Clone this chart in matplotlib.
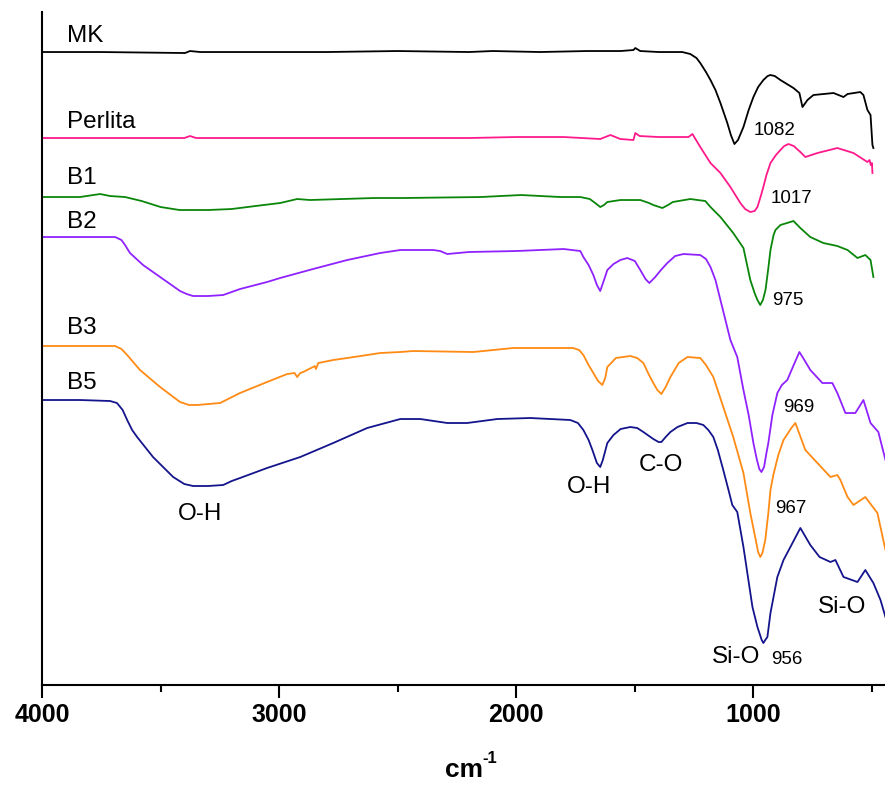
import numpy as np
import matplotlib
matplotlib.use('Agg')
import matplotlib.pyplot as plt
from matplotlib.ticker import MultipleLocator

plt.rcParams['font.family'] = ['Liberation Sans', 'DejaVu Sans']

# espectros FTIR (numero de onda cm-1, transmitancia u.a.)
mk_w = [4000, 3755, 3397, 3376, 3333, 2996, 2800, 2500, 2200, 2100, 1900, 1700, 1560, 1506,
        1498, 1477, 1400, 1300, 1266, 1240, 1224, 1200, 1181, 1160, 1139, 1110, 1095, 1080,
        1065, 1042, 1020, 1000, 980, 958, 940, 928, 910, 886, 831, 806, 793, 772, 747, 662,
        620, 603, 549, 536, 519, 506, 498, 494]
mk_t = [6.33, 6.33, 6.32, 6.34, 6.33, 6.33, 6.33, 6.34, 6.33, 6.34, 6.33, 6.34, 6.34, 6.35,
        6.37, 6.34, 6.33, 6.33, 6.31, 6.27, 6.22, 6.13, 6.05, 5.95, 5.82, 5.62, 5.50, 5.41,
        5.45, 5.58, 5.75, 5.88, 5.98, 6.05, 6.09, 6.10, 6.09, 6.05, 5.97, 5.92, 5.78, 5.85,
        5.90, 5.92, 5.88, 5.91, 5.93, 5.90, 5.75, 5.70, 5.40, 5.37]

perlita_w = [4000, 3755, 3400, 3376, 3350, 3000, 2600, 2200, 2000, 1800, 1646, 1603, 1561,
             1506, 1498, 1480, 1400, 1300, 1274, 1257, 1224, 1181, 1139, 1097, 1055, 1035,
             1013, 995, 983, 970, 958, 945, 928, 905, 886, 870, 852, 830, 802, 781, 730, 646,
             578, 519, 510, 505, 500, 498]
perlita_t = [5.47, 5.47, 5.47, 5.49, 5.47, 5.47, 5.47, 5.47, 5.48, 5.48, 5.46, 5.50, 5.46,
             5.45, 5.52, 5.49, 5.48, 5.48, 5.48, 5.51, 5.38, 5.22, 5.12, 4.98, 4.82, 4.76,
             4.73, 4.74, 4.78, 4.88, 4.98, 5.10, 5.22, 5.30, 5.35, 5.39, 5.41, 5.39, 5.33,
             5.28, 5.32, 5.37, 5.32, 5.23, 5.25, 5.20, 5.22, 5.12]

b1_w = [4000, 3840, 3755, 3713, 3650, 3580, 3500, 3420, 3300, 3200, 3100, 2996, 2924, 2870,
        2600, 2480, 2150, 1980, 1814, 1730, 1690, 1667, 1646, 1630, 1616, 1561, 1477, 1440,
        1422, 1384, 1360, 1340, 1266, 1203, 1181, 1139, 1085, 1042, 1013, 995, 983, 971,
        960, 949, 938, 928, 915, 907, 886, 831, 802, 760, 705, 646, 603, 561, 528, 506, 494]
b1_t = [4.88, 4.88, 4.91, 4.89, 4.88, 4.84, 4.78, 4.75, 4.75, 4.76, 4.79, 4.82, 4.86, 4.85,
        4.87, 4.87, 4.88, 4.90, 4.88, 4.88, 4.86, 4.82, 4.78, 4.80, 4.83, 4.85, 4.85, 4.82,
        4.80, 4.77, 4.80, 4.83, 4.86, 4.84, 4.78, 4.68, 4.52, 4.37, 4.05, 3.92, 3.85, 3.80,
        3.85, 3.95, 4.15, 4.35, 4.50, 4.55, 4.60, 4.64, 4.57, 4.48, 4.42, 4.39, 4.35, 4.27,
        4.30, 4.25, 4.08]

b2_w = [4000, 3840, 3692, 3665, 3650, 3629, 3574, 3502, 3418, 3390, 3363, 3300, 3236, 3165,
        3051, 2996, 2857, 2713, 2574, 2489, 2350, 2321, 2291, 2200, 2000, 1800, 1730, 1717,
        1695, 1675, 1660, 1646, 1630, 1616, 1590, 1561, 1532, 1500, 1477, 1455, 1439, 1414,
        1390, 1363, 1330, 1295, 1224, 1200, 1181, 1160, 1139, 1097, 1068, 1042, 1020, 1000,
        985, 975, 966, 955, 945, 937, 920, 899, 880, 857, 830, 806, 785, 760, 709, 667, 646,
        612, 570, 536, 506, 473, 443]
b2_t = [4.48, 4.48, 4.48, 4.45, 4.40, 4.32, 4.20, 4.08, 3.94, 3.91, 3.89, 3.89, 3.90, 3.96,
        4.03, 4.07, 4.16, 4.25, 4.32, 4.35, 4.35, 4.34, 4.31, 4.33, 4.34, 4.36, 4.34, 4.28,
        4.20, 4.10, 4.00, 3.94, 4.05, 4.15, 4.21, 4.25, 4.27, 4.24, 4.15, 4.06, 4.02, 4.08,
        4.15, 4.22, 4.29, 4.31, 4.30, 4.26, 4.18, 4.05, 3.85, 3.45, 3.28, 2.95, 2.70, 2.42,
        2.25, 2.16, 2.13, 2.18, 2.32, 2.42, 2.70, 2.92, 3.00, 3.05, 3.20, 3.33, 3.25, 3.15,
        3.02, 3.02, 2.92, 2.72, 2.72, 2.85, 2.62, 2.53, 2.25]

b3_w = [4000, 3840, 3692, 3665, 3641, 3587, 3502, 3418, 3380, 3346, 3249, 3165, 3051, 2966,
        2935, 2924, 2911, 2899, 2857, 2850, 2845, 2835, 2772, 2713, 2629, 2574, 2489, 2435,
        2181, 2013, 1760, 1735, 1717, 1695, 1675, 1655, 1637, 1625, 1616, 1580, 1519, 1490,
        1464, 1440, 1422, 1405, 1388, 1370, 1350, 1315, 1278, 1224, 1200, 1169, 1127, 1085,
        1042, 1013, 990, 980, 971, 962, 950, 937, 928, 916, 895, 873, 840, 823, 781, 730,
        675, 646, 633, 603, 578, 528, 477, 443]
b3_t = [3.39, 3.39, 3.39, 3.36, 3.30, 3.15, 2.98, 2.83, 2.80, 2.80, 2.82, 2.92, 3.03, 3.11,
        3.12, 3.08, 3.12, 3.13, 3.18, 3.19, 3.16, 3.22, 3.25, 3.27, 3.30, 3.32, 3.33, 3.34,
        3.33, 3.37, 3.37, 3.35, 3.30, 3.20, 3.12, 3.04, 3.00, 3.07, 3.18, 3.27, 3.29, 3.27,
        3.22, 3.10, 3.02, 2.95, 2.91, 2.98, 3.08, 3.22, 3.28, 3.27, 3.20, 3.08, 2.78, 2.48,
        2.12, 1.72, 1.45, 1.33, 1.28, 1.32, 1.45, 1.72, 1.95, 2.10, 2.30, 2.45, 2.57, 2.62,
        2.35, 2.22, 2.08, 2.10, 2.05, 1.88, 1.80, 1.88, 1.72, 1.35]

b5_w = [4000, 3840, 3713, 3684, 3660, 3641, 3620, 3599, 3532, 3447, 3400, 3363, 3300, 3236,
        3200, 3165, 3051, 2911, 2772, 2629, 2489, 2405, 2291, 2207, 2080, 1941, 1772, 1740,
        1717, 1695, 1679, 1660, 1646, 1635, 1616, 1590, 1560, 1519, 1490, 1464, 1422, 1400,
        1388, 1370, 1350, 1320, 1278, 1240, 1211, 1190, 1169, 1150, 1127, 1105, 1089, 1068,
        1042, 1004, 983, 965, 958, 950, 941, 928, 899, 873, 844, 802, 760, 721, 675, 654,
        620, 561, 528, 494, 464, 443]
b5_t = [2.85, 2.85, 2.84, 2.82, 2.75, 2.65, 2.55, 2.48, 2.28, 2.08, 2.01, 1.99, 1.99, 2.00,
        2.04, 2.07, 2.17, 2.28, 2.42, 2.57, 2.66, 2.66, 2.62, 2.62, 2.66, 2.67, 2.65, 2.62,
        2.55, 2.45, 2.35, 2.22, 2.18, 2.25, 2.42, 2.50, 2.56, 2.58, 2.57, 2.53, 2.46, 2.43,
        2.43, 2.48, 2.53, 2.58, 2.62, 2.62, 2.60, 2.55, 2.48, 2.35, 2.15, 1.95, 1.80, 1.73,
        1.38, 0.78, 0.58, 0.45, 0.42, 0.45, 0.48, 0.72, 1.08, 1.25, 1.38, 1.57, 1.40, 1.28,
        1.23, 1.25, 1.08, 1.03, 1.15, 1.02, 0.85, 0.68]

espectros = [
    ('MK', mk_w, mk_t, 'black'),
    ('Perlita', perlita_w, perlita_t, '#ff1a8c'),
    ('B1', b1_w, b1_t, '#0a860a'),
    ('B2', b2_w, b2_t, '#8f22ff'),
    ('B3', b3_w, b3_t, '#ff8a14'),
    ('B5', b5_w, b5_t, '#14148c'),
]

# posiciones de los nombres (cm-1, u.a.)
nombre_y = [6.495, 5.63, 5.07, 4.63, 3.57, 3.02]

# bandas anotadas
bandas = [('1082', 1000, 5.55), ('1017', 928, 4.87), ('975', 920, 3.85),
          ('969', 873, 2.78), ('967', 907, 1.77), ('956', 924, 0.25)]
grupos = [('O-H', 3335, 1.71), ('O-H', 1692, 1.98), ('C-O', 1390, 2.20),
          ('Si-O', 1173, 0.28), ('Si-O', 730, 0.78)]

fig = plt.figure(figsize=(8.85, 7.86), dpi=100)
ax = fig.add_axes([0.0475, 0.1285, 0.9525, 0.8562])

for (nombre, w, t, c), yn in zip(espectros, nombre_y):
    ax.plot(w, t, color=c, lw=1.3)
    ax.text(3895, yn, nombre, fontsize=17.5, ha='left', va='center')

for txt, x, y in bandas:
    ax.text(x, y, txt, fontsize=13.5, ha='left', va='center')
for txt, x, y in grupos:
    ha = 'left' if txt == 'Si-O' else 'center'
    ax.text(x, y, txt, fontsize=17.5, ha=ha, va='center')

ax.set_xlim(4000, 445)
ax.set_ylim(0, 6.73)
ax.xaxis.set_major_locator(MultipleLocator(1000))
ax.xaxis.set_minor_locator(MultipleLocator(500))
ax.set_yticks([])
for s in ['top', 'right']:
    ax.spines[s].set_visible(False)
for s in ['left', 'bottom']:
    ax.spines[s].set_linewidth(1.5)
ax.tick_params(axis='x', which='major', direction='out', length=9, width=1.5, pad=4,
               labelsize=18)
ax.tick_params(axis='x', which='minor', direction='out', length=5, width=1.5)
for lab in ax.get_xticklabels():
    lab.set_fontweight('bold')
ax.set_xlabel('cm', fontsize=19, fontweight='bold', labelpad=22)
ax.annotate('-1', xy=(1, 0.95), xycoords=ax.xaxis.label, xytext=(0, 0),
            textcoords='offset points', fontsize=12, fontweight='bold', ha='left', va='center')

fig.savefig('out.png', dpi=100)
